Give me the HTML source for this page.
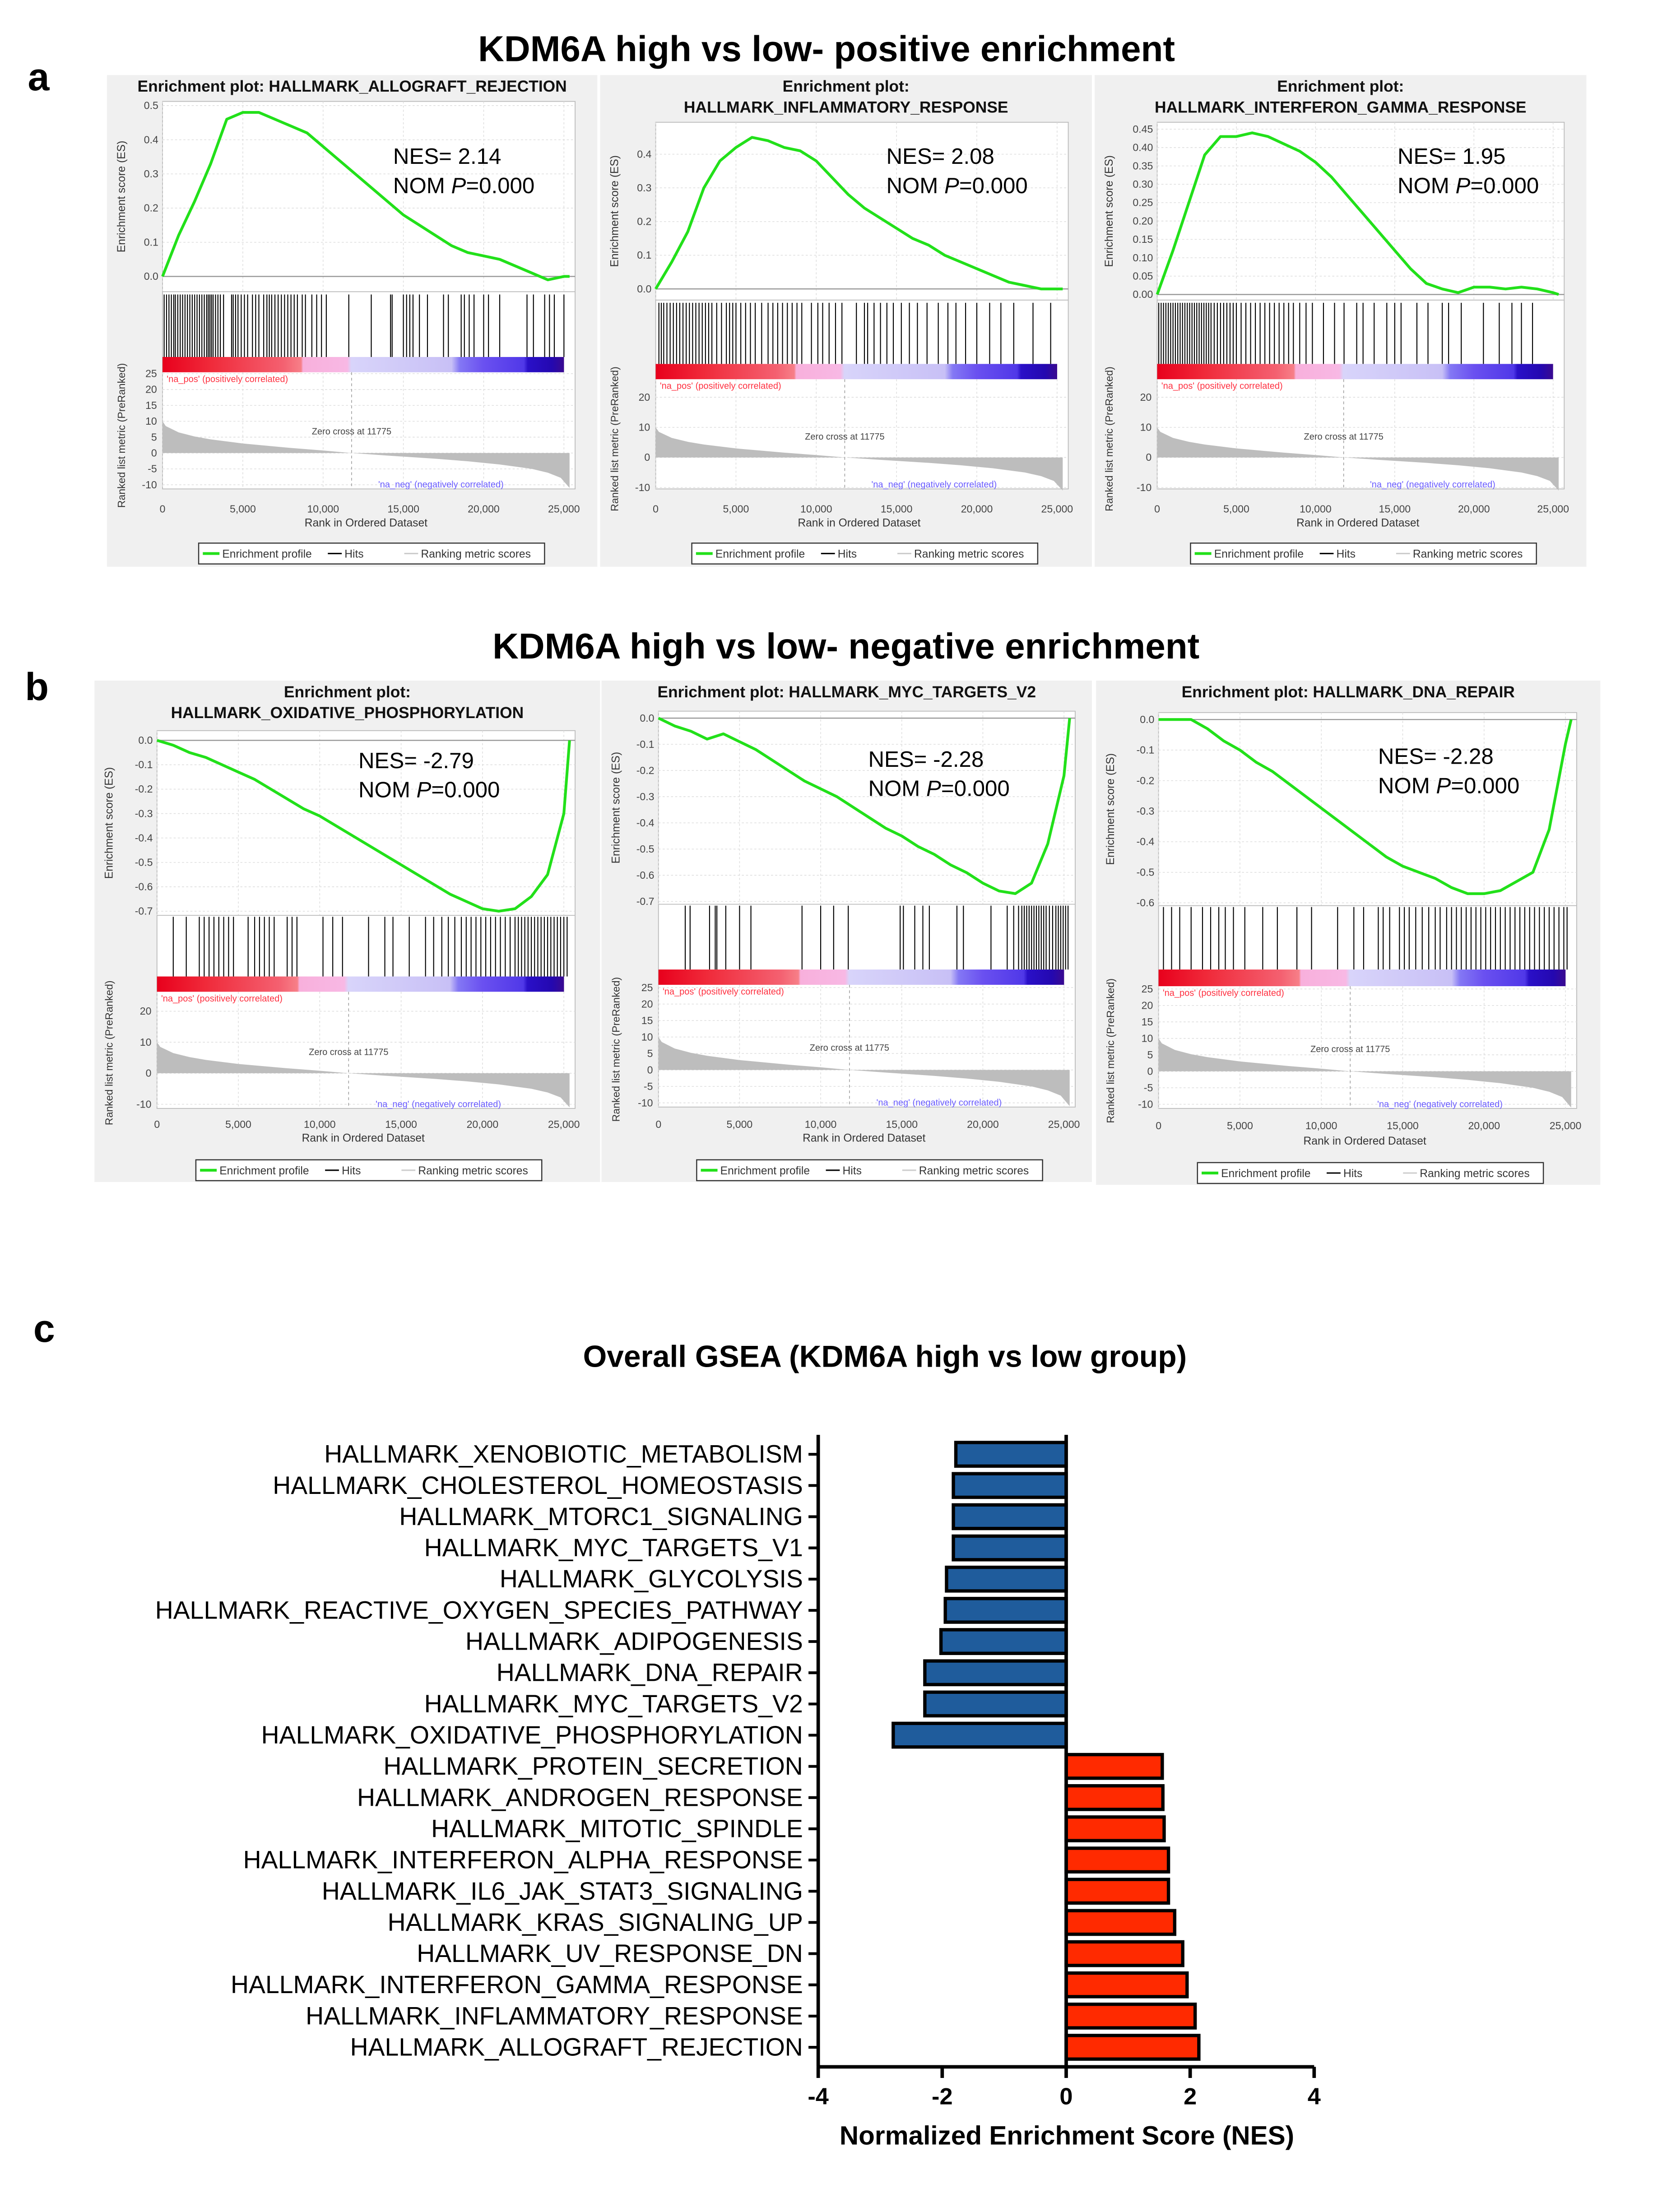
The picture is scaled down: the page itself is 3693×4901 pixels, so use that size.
<!DOCTYPE html>
<html><head><meta charset="utf-8">
<style>
html,body{margin:0;padding:0;background:#fff;}
svg{display:block;font-family:"Liberation Sans",sans-serif;}
</style></head>
<body>
<svg id="root" xmlns="http://www.w3.org/2000/svg" width="3693" height="4901" viewBox="0 0 1200 1592.5">
<defs>
<linearGradient id="cbar" x1="0" x2="1" y1="0" y2="0">
<stop offset="0" stop-color="#e8001c"/><stop offset="0.12" stop-color="#f02a3a"/><stop offset="0.3" stop-color="#f46070"/><stop offset="0.345" stop-color="#f77f88"/><stop offset="0.35" stop-color="#f8b0dc"/><stop offset="0.46" stop-color="#f8b8e4"/><stop offset="0.47" stop-color="#d8d4fa"/><stop offset="0.72" stop-color="#c8c0f6"/><stop offset="0.74" stop-color="#8478f4"/><stop offset="0.8" stop-color="#6a50f0"/><stop offset="0.9" stop-color="#5038e8"/><stop offset="0.91" stop-color="#2a10c8"/><stop offset="0.97" stop-color="#2408b0"/><stop offset="1" stop-color="#3a0a90"/>
</linearGradient>
</defs>
<text x="595" y="44" font-size="26" font-weight="bold" text-anchor="middle">KDM6A high vs low- positive enrichment</text>
<text x="20" y="65" font-size="28" font-weight="bold">a</text>
<text x="609" y="474" font-size="26" font-weight="bold" text-anchor="middle">KDM6A high vs low- negative enrichment</text>
<text x="18" y="504" font-size="28" font-weight="bold">b</text>
<text x="24" y="966" font-size="28" font-weight="bold">c</text>
<text x="637" y="984" font-size="22" font-weight="bold" text-anchor="middle">Overall GSEA (KDM6A high vs low group)</text>
<g id="panels"></g>
<g id="bars"></g>
</svg>
<script>
// ---------- Bar chart data ----------
const barCategories = ["HALLMARK_XENOBIOTIC_METABOLISM","HALLMARK_CHOLESTEROL_HOMEOSTASIS","HALLMARK_MTORC1_SIGNALING","HALLMARK_MYC_TARGETS_V1","HALLMARK_GLYCOLYSIS","HALLMARK_REACTIVE_OXYGEN_SPECIES_PATHWAY","HALLMARK_ADIPOGENESIS","HALLMARK_DNA_REPAIR","HALLMARK_MYC_TARGETS_V2","HALLMARK_OXIDATIVE_PHOSPHORYLATION","HALLMARK_PROTEIN_SECRETION","HALLMARK_ANDROGEN_RESPONSE","HALLMARK_MITOTIC_SPINDLE","HALLMARK_INTERFERON_ALPHA_RESPONSE","HALLMARK_IL6_JAK_STAT3_SIGNALING","HALLMARK_KRAS_SIGNALING_UP","HALLMARK_UV_RESPONSE_DN","HALLMARK_INTERFERON_GAMMA_RESPONSE","HALLMARK_INFLAMMATORY_RESPONSE","HALLMARK_ALLOGRAFT_REJECTION"];
const barValues = [-1.78,-1.82,-1.82,-1.82,-1.93,-1.95,-2.02,-2.28,-2.28,-2.79,1.55,1.56,1.58,1.65,1.65,1.75,1.88,1.95,2.08,2.14];
const barTicks = [-4,-2,0,2,4];

// ---------- GSEA panel data ----------
const esRanks = [0,1000,2000,3000,4000,5000,6000,7000,8000,9000,10000,11000,12000,13000,14000,15000,16000,17000,18000,19000,20000,21000,22000,23000,24000,25000,25350];
const esAllograft = [0,0.12,0.22,0.33,0.46,0.48,0.48,0.46,0.44,0.42,0.38,0.34,0.30,0.26,0.22,0.18,0.15,0.12,0.09,0.07,0.06,0.05,0.03,0.01,-0.01,0.0,0.0];
const esInflammatory = [0,0.08,0.17,0.30,0.38,0.42,0.45,0.44,0.42,0.41,0.38,0.33,0.28,0.24,0.21,0.18,0.15,0.13,0.10,0.08,0.06,0.04,0.02,0.01,0.0,0.0,0.0];
const esIfng = [0,0.12,0.25,0.38,0.43,0.43,0.44,0.43,0.41,0.39,0.36,0.32,0.27,0.22,0.17,0.12,0.07,0.03,0.015,0.005,0.02,0.02,0.015,0.02,0.015,0.005,0.0];
const esOxphos = [0,-0.02,-0.05,-0.07,-0.10,-0.13,-0.16,-0.20,-0.24,-0.28,-0.31,-0.35,-0.39,-0.43,-0.47,-0.51,-0.55,-0.59,-0.63,-0.66,-0.69,-0.70,-0.69,-0.64,-0.55,-0.30,0.0];
const esMycV2 = [0,-0.03,-0.05,-0.08,-0.06,-0.09,-0.12,-0.16,-0.20,-0.24,-0.27,-0.30,-0.34,-0.38,-0.42,-0.45,-0.49,-0.52,-0.56,-0.59,-0.63,-0.66,-0.67,-0.63,-0.48,-0.22,0.0];
const esDnaRepair = [0,0,0,-0.03,-0.07,-0.10,-0.14,-0.17,-0.21,-0.25,-0.29,-0.33,-0.37,-0.41,-0.45,-0.48,-0.50,-0.52,-0.55,-0.57,-0.57,-0.56,-0.53,-0.50,-0.36,-0.08,0.0];
const hitsAllograft = [100,250,400,550,700,800,950,1100,1250,1400,1550,1700,1850,2000,2150,2300,2450,2600,2750,2850,2950,3050,3150,3300,3450,3600,3800,4300,4400,4550,4700,4900,5100,5300,5600,5800,6000,6300,6500,6650,6800,7000,7200,7400,7600,7800,8000,8200,8400,8700,8900,9300,9600,9900,10200,11600,13000,14200,14300,15000,15200,15400,15600,16000,16500,17500,17800,18600,18800,19100,19400,20000,20300,21000,22700,23100,23800,24100,24400,25000];
const hitsInflammatory = [200,350,500,700,900,1100,1300,1500,1700,1900,2100,2300,2500,2700,2900,3100,3300,3500,3800,4100,4400,4600,4800,5000,5300,5600,5900,6200,6600,7000,7300,7600,7900,8200,8500,8800,9100,9700,10100,10400,10800,11200,11600,12500,13000,13200,13600,14000,14400,14800,15300,15800,16300,16900,17600,18200,18700,19300,20000,20800,21500,22300,23500,24600];
const hitsIfng = [100,250,400,550,700,850,1000,1150,1300,1450,1600,1750,1900,2050,2200,2350,2500,2650,2800,2950,3100,3250,3400,3600,3800,4000,4200,4400,4600,4800,5000,5300,5600,5900,6200,6500,6800,7100,7400,7700,8000,8300,8600,9000,9400,9800,10500,11200,11800,12600,13000,13700,14500,15000,15400,16400,17100,18000,18400,19200,20600,21600,22400,23000,23700];
const hitsOxphos = [1000,1800,2600,2900,3200,3500,3800,4100,4400,4700,5600,6000,6300,6600,6900,7200,8000,8300,8600,10200,10800,11400,13000,14000,14500,15500,16500,17000,17500,17900,18300,18700,19000,19300,19600,19900,20200,20500,20800,21100,21400,21700,22000,22200,22400,22600,22800,23000,23200,23400,23600,23800,24000,24200,24400,24600,24800,25000,25200];
const hitsMycV2 = [1650,1950,3150,3500,3600,4150,5000,5700,8850,10000,10800,11700,14900,15100,15800,16300,16700,18400,18800,20500,21500,21900,22200,22400,22550,22700,22850,23000,23150,23300,23450,23600,23750,23900,24100,24300,24500,24650,24800,24950,25100,25250];
const hitsDnaRepair = [300,800,1300,2000,2700,3200,3700,4100,4600,5300,6400,7300,8500,9400,11000,12000,12600,13500,13800,14200,14800,15100,15400,15800,16200,16600,17000,17300,17700,18000,18300,18600,18900,19200,19500,19800,20100,20400,20700,21000,21300,21600,21900,22200,22500,22800,23100,23400,23700,24000,24300,24600,24900,25100];
const metricRanks = [0,200,1000,2000,3000,5000,8000,10000,11775,14000,17000,19000,21000,23000,24000,24800,25350];
const metricValues = [10,8.5,6.5,5.2,4.3,3.0,1.6,0.8,0,-0.8,-1.8,-2.6,-3.6,-5.0,-6.2,-7.8,-11];
const rankTicks = [0,5000,10000,15000,20000,25000];

const NS = "http://www.w3.org/2000/svg";
function mk(tag, attrs, parent, txt){
  const e = document.createElementNS(NS, tag);
  for (const k in attrs) e.setAttribute(k, attrs[k]);
  if (txt !== undefined) e.textContent = txt;
  parent.appendChild(e);
  return e;
}
const fmt = v => v.toLocaleString('en-US');

const panels = [
 {name:"allograft", box:[77,54,353,354], title:["Enrichment plot: HALLMARK_ALLOGRAFT_REJECTION"], x0:117, x1:410, esTop:73, esBot:210, esTicks:[0,0.1,0.2,0.3,0.4,0.5], esFmt:1, esMaxY:76, esMinY:199, es:esAllograft, hits:hitsAllograft, hitY:[212,257], mTop:268, mBot:352, mTicks:[25,20,15,10,5,0,-5,-10], mHiY:269, mLoY:349, tickY:369, titleY:379, legY:391, nes:["NES= 2.14",283,118]},
 {name:"inflammatory", box:[432,54,354,354], title:["Enrichment plot:","HALLMARK_INFLAMMATORY_RESPONSE"], x0:472, x1:765, esTop:88, esBot:216, esTicks:[0,0.1,0.2,0.3,0.4], esFmt:1, esMaxY:111, esMinY:208, es:esInflammatory, hits:hitsInflammatory, hitY:[218,262], mTop:273, mBot:352, mTicks:[20,10,0,-10], mHiY:286, mLoY:351, tickY:369, titleY:379, legY:391, nes:["NES= 2.08",638,118]},
 {name:"ifng", box:[788,54,354,354], title:["Enrichment plot:","HALLMARK_INTERFERON_GAMMA_RESPONSE"], x0:833, x1:1122, esTop:88, esBot:216, esTicks:[0,0.05,0.1,0.15,0.2,0.25,0.3,0.35,0.4,0.45], esFmt:2, esMaxY:93, esMinY:212, es:esIfng, hits:hitsIfng, hitY:[218,262], mTop:273, mBot:352, mTicks:[20,10,0,-10], mHiY:286, mLoY:351, tickY:369, titleY:379, legY:391, nes:["NES= 1.95",1006,118]},
 {name:"oxphos", box:[68,490,364,361], title:["Enrichment plot:","HALLMARK_OXIDATIVE_PHOSPHORYLATION"], x0:113, x1:410, esTop:526, esBot:659, esTicks:[0,-0.1,-0.2,-0.3,-0.4,-0.5,-0.6,-0.7], esFmt:1, esMaxY:533, esMinY:656, es:esOxphos, hits:hitsOxphos, hitY:[660,703], mTop:714, mBot:798, mTicks:[20,10,0,-10], mHiY:728, mLoY:795, tickY:812, titleY:822, legY:835, nes:["NES= -2.79",258,553]},
 {name:"myc-v2", box:[433,490,353,361], title:["Enrichment plot: HALLMARK_MYC_TARGETS_V2"], x0:474, x1:770, esTop:512, esBot:651, esTicks:[0,-0.1,-0.2,-0.3,-0.4,-0.5,-0.6,-0.7], esFmt:1, esMaxY:517, esMinY:649, es:esMycV2, hits:hitsMycV2, hitY:[652,698], mTop:709, mBot:797, mTicks:[25,20,15,10,5,0,-5,-10], mHiY:711, mLoY:794, tickY:812, titleY:822, legY:835, nes:["NES= -2.28",625,552]},
 {name:"dna-repair", box:[789,490,363,363], title:["Enrichment plot: HALLMARK_DNA_REPAIR"], x0:834, x1:1131, esTop:513, esBot:652, esTicks:[0,-0.1,-0.2,-0.3,-0.4,-0.5,-0.6], esFmt:1, esMaxY:518, esMinY:650, es:esDnaRepair, hits:hitsDnaRepair, hitY:[653,698], mTop:710, mBot:798, mTicks:[25,20,15,10,5,0,-5,-10], mHiY:712, mLoY:795, tickY:813, titleY:824, legY:837, nes:["NES= -2.28",992,550]}
];

const panelsG = document.getElementById('panels');
panels.forEach(p => {
  const g = mk('g', {}, panelsG);
  
  
  const [bx,by,bw,bh] = p.box;
  const bg = mk('rect', {x:bx,y:by,width:bw,height:bh,fill:'#f0f0f0'}, g);
  
  
  p.title.forEach((t,i) => {
    const tt = mk('text', {x:bx+bw/2, y:by+12+i*15, 'font-size':11.5, 'font-weight':'bold', 'text-anchor':'middle', fill:'#111'}, g, t);
    
    
  });
  const xmax = 25350;
  const xs = r => p.x0 + (p.x1 - p.x0) * r / xmax;
  const esMax = p.esTicks.reduce((a,b)=>Math.max(a,b));
  const esMin = p.esTicks.reduce((a,b)=>Math.min(a,b));
  const ys = v => p.esMinY + (p.esMaxY - p.esMinY) * (v - esMin) / (esMax - esMin);
  const mHi = p.mTicks[0], mLo = p.mTicks[p.mTicks.length-1];
  const ms = v => p.mLoY + (p.mHiY - p.mLoY) * (v - mLo) / (mHi - mLo);
  mk('rect', {x:p.x0, y:p.esTop, width:p.x1-p.x0+4, height:p.mBot-p.esTop, fill:'#fff', stroke:'#bbb', 'stroke-width':0.6}, g);
  p.esTicks.forEach(t => {
    const y = ys(t);
    mk('line', {x1:p.x0, x2:p.x1+4, y1:y, y2:y, stroke:'#ddd', 'stroke-width':0.5, 'stroke-dasharray':'1.5,1.5'}, g);
    const lab = mk('text', {x:p.x0-3, y:y+2.5, 'font-size':7.5, 'text-anchor':'end', fill:'#444'}, g, t.toFixed(p.esFmt));
    
    
  });
  rankTicks.forEach(t => {
    const x = xs(t);
    mk('line', {x1:x, x2:x, y1:p.esTop, y2:p.esBot, stroke:'#ddd', 'stroke-width':0.5, 'stroke-dasharray':'1.5,1.5'}, g);
    mk('line', {x1:x, x2:x, y1:p.mTop, y2:p.mBot, stroke:'#ddd', 'stroke-width':0.5, 'stroke-dasharray':'1.5,1.5'}, g);
    const lab = mk('text', {x:x, y:p.tickY, 'font-size':7.5, 'text-anchor':'middle', fill:'#444'}, g, fmt(t));
    
    
  });
  mk('line', {x1:p.x0, x2:p.x1+4, y1:ys(0), y2:ys(0), stroke:'#999', 'stroke-width':0.8}, g);
  mk('line', {x1:p.x0, x2:p.x1+4, y1:p.esBot, y2:p.esBot, stroke:'#bbb', 'stroke-width':0.6}, g);
  const pts = esRanks.map((r,i) => xs(r).toFixed(2) + ',' + ys(p.es[i]).toFixed(2)).join(' ');
  const curve = mk('polyline', {points:pts, fill:'none', stroke:'#22e01a', 'stroke-width':2, 'stroke-linejoin':'round'}, g);
  
  
  const es1 = mk('text', {x:p.nes[1], y:p.nes[2], 'font-size':16, fill:'#000'}, g, p.nes[0]);
  
  
  const es2 = mk('text', {x:p.nes[1], y:p.nes[2]+21, 'font-size':16, fill:'#000'}, g);
  
  
  mk('tspan', {}, es2, 'NOM ');
  mk('tspan', {'font-style':'italic'}, es2, 'P');
  mk('tspan', {}, es2, '=0.000');
  p.hits.forEach(h => {
    const l = mk('line', {x1:xs(h), x2:xs(h), y1:p.hitY[0], y2:p.hitY[1], stroke:'#000', 'stroke-width':0.7}, g);
    
    
  });
  const cb = mk('rect', {x:p.x0, y:p.hitY[1], width:xs(25350)-p.x0-4, height:p.mTop-p.hitY[1], fill:'url(#cbar)'}, g);
  
  
  p.mTicks.forEach(t => {
    const y = ms(t);
    mk('line', {x1:p.x0, x2:p.x1+4, y1:y, y2:y, stroke:'#ddd', 'stroke-width':0.5, 'stroke-dasharray':'1.5,1.5'}, g);
    const lab = mk('text', {x:p.x0-4, y:y+2.5, 'font-size':7.5, 'text-anchor':'end', fill:'#444'}, g, String(t));
    
    
  });
  let d = 'M' + xs(0) + ',' + ms(0);
  metricRanks.forEach((r,i) => { d += ' L' + xs(r).toFixed(2) + ',' + ms(metricValues[i]).toFixed(2); });
  d += ' L' + xs(25350) + ',' + ms(0) + ' Z';
  const area = mk('path', {d:d, fill:'#bdbdbd'}, g);
  
  
  mk('line', {x1:xs(11775), x2:xs(11775), y1:p.mTop, y2:p.mBot, stroke:'#999', 'stroke-width':0.5, 'stroke-dasharray':'2,2'}, g);
  mk('text', {x:xs(11775), y:ms(5)-2, 'font-size':6.5, 'text-anchor':'middle', fill:'#444'}, g, 'Zero cross at 11775');
  mk('text', {x:p.x0+3, y:p.mTop+7, 'font-size':6.5, fill:'#ff3040'}, g, "'na_pos' (positively correlated)");
  mk('text', {x:p.x0+(p.x1-p.x0)*0.53, y:p.mBot-1, 'font-size':6.5, fill:'#6a5cff'}, g, "'na_neg' (negatively correlated)");
  const cx = p.x0 + (p.x1-p.x0)/2;
  const xt = mk('text', {x:cx, y:p.titleY, 'font-size':8, 'text-anchor':'middle', fill:'#333'}, g, 'Rank in Ordered Dataset');
  
  
  const ey = (p.esTop + p.esBot)/2;
  const yt = mk('text', {x:0, y:0, 'font-size':8, 'text-anchor':'middle', fill:'#333', transform:`translate(${bx+13},${ey}) rotate(-90)`}, g, 'Enrichment score (ES)');
  
  
  const my = (p.mTop + p.tickY)/2 - 5;
  const yt2 = mk('text', {x:0, y:0, 'font-size':7.5, 'text-anchor':'middle', fill:'#333', transform:`translate(${bx+13},${my}) rotate(-90)`}, g, 'Ranked list metric (PreRanked)');
  
  
  const lw = 249, lx = cx - lw/2 + 4;
  const lg = mk('g', {}, g);
  
  
  mk('rect', {x:lx, y:p.legY, width:lw, height:15, fill:'#fff', stroke:'#333', 'stroke-width':0.8}, lg);
  mk('line', {x1:lx+3, x2:lx+15, y1:p.legY+7.5, y2:p.legY+7.5, stroke:'#22e01a', 'stroke-width':2}, lg);
  mk('text', {x:lx+17, y:p.legY+10.5, 'font-size':8, fill:'#333'}, lg, 'Enrichment profile');
  mk('line', {x1:lx+93, x2:lx+103, y1:p.legY+7.5, y2:p.legY+7.5, stroke:'#000', 'stroke-width':1}, lg);
  mk('text', {x:lx+105, y:p.legY+10.5, 'font-size':8, fill:'#333'}, lg, 'Hits');
  mk('line', {x1:lx+148, x2:lx+158, y1:p.legY+7.5, y2:p.legY+7.5, stroke:'#ccc', 'stroke-width':1}, lg);
  mk('text', {x:lx+160, y:p.legY+10.5, 'font-size':8, fill:'#333'}, lg, 'Ranking metric scores');
});

// ---------- Bar chart ----------
const bg2 = document.getElementById('bars');
const bx0 = 589, bx1 = 946, bvMin = -4, bvMax = 4;
const bxs = v => bx0 + (bx1 - bx0) * (v - bvMin) / (bvMax - bvMin);
const rowTop = 1047, rowStep = 22.47;
const bys = i => rowTop + i * rowStep;
barCategories.forEach((c,i) => {
  const y = bys(i);
  const v = barValues[i];
  const x = Math.min(bxs(0), bxs(v)), w = Math.abs(bxs(v) - bxs(0));
  const r = mk('rect', {x:x, y:y-8.5, width:w, height:17, fill: v < 0 ? '#1f5c9c' : '#ff2a00', stroke:'#000', 'stroke-width':2.4}, bg2);
  
  
  const t = mk('text', {x:578, y:y+6, 'font-size':18, 'text-anchor':'end', fill:'#000'}, bg2, c);
  
  
  mk('line', {x1:582, x2:589, y1:y, y2:y, stroke:'#000', 'stroke-width':2}, bg2);
});
const ya = mk('line', {x1:bx0, x2:bx0, y1:1033, y2:1488, stroke:'#000', 'stroke-width':2.5}, bg2);


const zl = mk('line', {x1:bxs(0), x2:bxs(0), y1:1033, y2:1488, stroke:'#000', 'stroke-width':2.5}, bg2);


const xa = mk('line', {x1:bx0, x2:bx1, y1:1488, y2:1488, stroke:'#000', 'stroke-width':2.5}, bg2);


barTicks.forEach(t => {
  mk('line', {x1:bxs(t), x2:bxs(t), y1:1488, y2:1496, stroke:'#000', 'stroke-width':2.5}, bg2);
  const l = mk('text', {x:bxs(t), y:1515, 'font-size':17, 'font-weight':'bold', 'text-anchor':'middle'}, bg2, String(t));
  
  
});
const at = mk('text', {x:768, y:1544, 'font-size':19, 'font-weight':'bold', 'text-anchor':'middle'}, bg2, 'Normalized Enrichment Score (NES)');


</script>
</body></html>
